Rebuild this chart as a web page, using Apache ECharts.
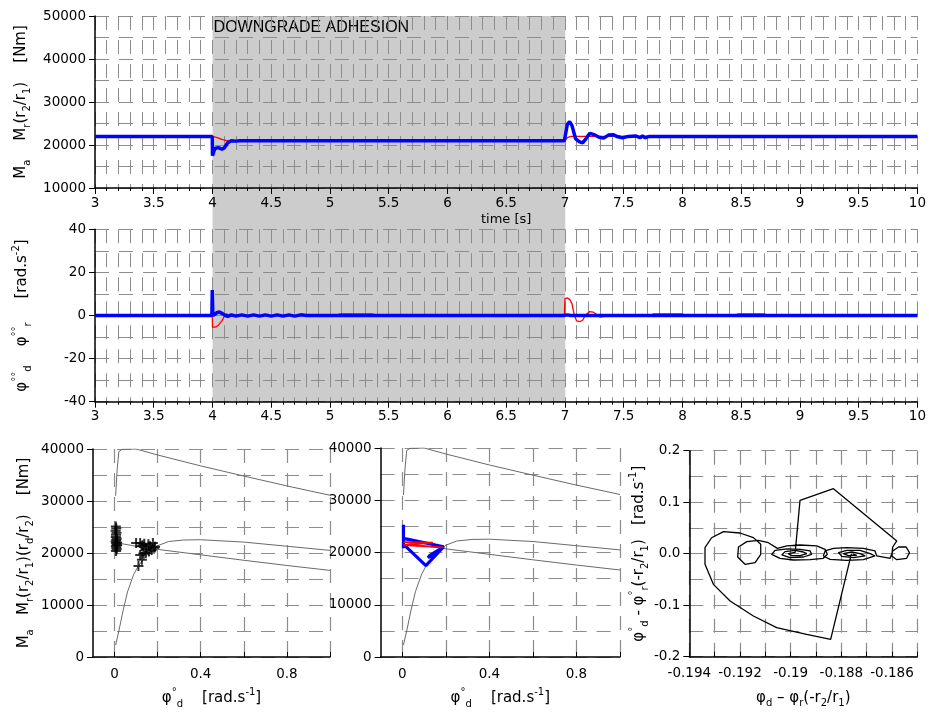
<!DOCTYPE html>
<html><head><meta charset="utf-8">
<script src="https://cdn.jsdelivr.net/npm/echarts@6/dist/echarts.min.js"></script>
<style>html,body{margin:0;padding:0;background:#fff}#c{width:929px;height:712px}</style>
</head><body><div id="c"></div>
<script>
// ---------- DATA ----------
// top: torques vs time
const torqueTimeA = [3, 3.998, 4.0, 4.02, 4.05, 4.08, 4.1, 4.13, 4.16, 4.2, 4.21, 4.23, 6.995, 7.02, 7.04, 7.06, 7.09, 7.12, 7.15, 7.18, 7.21, 7.25, 7.29, 7.33, 7.37, 7.41, 7.45, 7.49, 7.54, 7.6, 7.64, 7.66, 7.68, 7.72, 10];
const torqueA     = [22000, 22000, 17500, 19200, 19400, 19000, 19300, 20500, 21000, 20900, 20700, 21000, 21000, 24800, 25400, 24500, 21500, 20800, 20500, 21500, 22700, 22400, 21800, 21600, 22300, 22400, 21900, 21700, 22000, 22100, 21700, 22100, 21700, 22000, 22000];
const torqueTimeR = [3, 4.0, 4.04, 4.08, 4.12, 6.995, 7.02, 7.05, 10];
const torqueR     = [22000, 22000, 21700, 21300, 21000, 21000, 21700, 22000, 22000];
// middle: accelerations vs time
const accTimeD = [3, 3.995, 3.998, 4.003, 4.01, 4.02, 4.04, 4.06, 4.08, 4.1, 4.13, 4.16, 4.2, 4.25, 4.3, 4.35, 4.4, 4.45, 4.5, 4.55, 4.6, 4.65, 4.7, 4.75, 4.8, 6.99, 7.0, 7.02, 7.05, 10];
const accD     = [0, 0, 11.8, 0, -0.6, 0.4, 1.4, 1.6, 1.0, 0.3, -0.4, 0.3, -0.3, 0.3, -0.3, 0.3, -0.3, 0.3, -0.3, 0.3, -0.3, 0.3, -0.3, 0.3, 0, 0, 0.8, 0.3, 0, 0];
const accTimeR = [3, 3.998, 4.0, 4.01, 4.03, 4.05, 4.08, 4.1, 4.12, 4.15, 4.18, 4.22, 4.3, 5.05, 5.08, 5.36, 5.4, 6.995, 7.0, 7.02, 7.04, 7.06, 7.08, 7.1, 7.13, 7.15, 7.18, 7.21, 7.24, 7.27, 7.3, 7.35, 7.45, 7.5, 7.72, 7.75, 8.0, 8.03, 8.44, 8.47, 8.7, 8.73, 10];
const accR     = [0, 0, -5.5, -5.8, -5.3, -4.5, -2.5, -0.5, 0.8, -0.5, 0.3, 0, 0, 0, 0.7, 0.7, 0, 0, 7.8, 8.2, 7.5, 5.5, 0, -2.5, -2.8, -2.2, 0.5, 1.8, 1.6, 0.5, -0.8, -0.3, 0.2, 0, 0, 0.7, 0.7, 0, 0, 0.7, 0.7, 0, 0];
const adhesionWindow = [4, 7];
const adhesionLabel = 'DOWNGRADE ADHESION';
// adhesion characteristic curves (bottom left & middle)
const curveTopX = [0.005, 0.012, 0.02, 0.035, 0.1, 0.2, 0.4, 0.6, 0.8, 1.0];
const curveTopY = [31000, 36000, 39500, 39950, 40000, 38850, 36750, 34800, 32900, 31100];
const curveMidX = [0.005, 0.02, 0.04, 0.06, 0.088, 0.11, 0.14, 0.17, 0.2, 0.25, 0.32, 0.4, 0.6, 0.8, 1.0];
const curveMidY = [2300, 5000, 9000, 12500, 15800, 17500, 19100, 20400, 21400, 22200, 22500, 22550, 22100, 21300, 20500];
const curveLowX = [0.005, 0.1, 0.2, 0.4, 0.6, 0.8, 1.0];
const curveLowY = [22000, 21300, 20700, 19650, 18600, 17600, 16650];
// sampled operating points (bottom left)
const pointsX = [0.006, 0.008, 0.005, 0.009, 0.007, 0.006, 0.010, 0.008, 0.005, 0.007, 0.009, 0.006, 0.008, 0.010, 0.007, 0.012, 0.012,
                 0.100, 0.119, 0.138, 0.157, 0.178, 0.125, 0.165, 0.188, 0.148, 0.172, 0.160, 0.134, 0.119, 0.127, 0.111, 0.145, 0.185, 0.130];
const pointsY = [25100, 24700, 24300, 23900, 23500, 23100, 22800, 22500, 22200, 21900, 21600, 21300, 21000, 20700, 20400, 22000, 21500,
                 21900, 21900, 21800, 21700, 21900, 21300, 21300, 21200, 20700, 20600, 20300, 19900, 19600, 18700, 17500, 20000, 21000, 21500];
// operating trajectories (bottom middle)
const trajBlueX = [0.005, 0.005, 0.005, 0.19, 0.125, 0.118, 0.13, 0.19, 0.108, 0.007, 0.005];
const trajBlueY = [20800, 25300, 22700, 21100, 19400, 19000, 19300, 21100, 17500, 21500, 21000];
const trajRedX = [0.005, 0.14, 0.005, 0.19];
const trajRedY = [22000, 21900, 21400, 21000];
// phase portrait (bottom right)
const phaseX = [-0.18760, -0.18842, -0.18937, -0.19055, -0.19147, -0.19239, -0.19305, -0.19338, -0.19338, -0.19312,
  -0.19265, -0.19200, -0.19147, -0.19118, -0.19118, -0.19140, -0.19180, -0.19209, -0.19206, -0.19173, -0.19127, -0.19088, -0.19052,
  -0.19015, -0.18963, -0.18897, -0.18864, -0.18855, -0.18871, -0.18923, -0.18989, -0.19042, -0.19075, -0.19061, -0.19015,
  -0.18963, -0.18923, -0.18917, -0.18950, -0.19002, -0.19035, -0.19022, -0.18982,
  -0.18950, -0.18936, -0.18963, -0.18996, -0.19009, -0.18982, -0.18979,
  -0.18963, -0.18831, -0.18581,
  -0.18597, -0.18601, -0.18581, -0.18542, -0.18531, -0.18544, -0.18574, -0.18597, -0.18607,
  -0.18660, -0.18667, -0.18713, -0.18778, -0.18831, -0.18864, -0.18871, -0.18844, -0.18778, -0.18713, -0.18667,
  -0.18686, -0.18726, -0.18778, -0.18811, -0.18798, -0.18752, -0.18706,
  -0.18726, -0.18759, -0.18792, -0.18772, -0.18739, -0.18756];
const phaseY = [0.0000, -0.1663, -0.1566, -0.1437, -0.1210, -0.0918, -0.0595, -0.0206, 0.0117, 0.0310,
  0.0428, 0.0402, 0.0312, 0.0182, -0.0012, -0.0174, -0.0206, -0.0064, 0.0130, 0.0234, 0.0260, 0.0214, 0.0104,
  0.0150, 0.0169, 0.0150, 0.0085, -0.0012, -0.0090, -0.0116, -0.0122, -0.0090, -0.0012, 0.0066, 0.0092,
  0.0085, 0.0053, -0.0012, -0.0064, -0.0077, -0.0025, 0.0040, 0.0066,
  0.0033, 0.0001, -0.0038, -0.0038, 0.0001, 0.0027, 0.0001,
  0.1036, 0.1263, 0.0247,
  0.0130, -0.0044, -0.0116, -0.0090, 0.0020, 0.0130, 0.0130, 0.0053, -0.0090,
  -0.0044, 0.0053, 0.0104, 0.0117, 0.0104, 0.0053, -0.0044, -0.0109, -0.0129, -0.0116, -0.0044,
  0.0001, 0.0066, 0.0066, 0.0020, -0.0051, -0.0077, -0.0044,
  0.0001, 0.0033, 0.0001, -0.0038, -0.0032, -0.0005];
// tick values
const phiDotLabelVals = [0, 0.4, 0.8];
const phiDotTickVals = [0, 0.2, 0.4, 0.6, 0.8, 1.0];

// ---------- CHART ----------
const zip = (a, b) => a.map((v, i) => [v, b[i]]);
const FONT = 'DejaVu Sans';
const gridLine = {color: '#8c8c8c', width: 1, type: [14, 10]};
const gridLineB = {color: '#8c8c8c', width: 1.2, type: [14, 10]};
const axisLineS = {show: true, onZero: false, lineStyle: {color: '#000', width: 1.5}};
const lbl = {color: '#000', fontSize: 13.5, fontFamily: FONT};
const plain = v => String(v);
const rich = {
  n: {fontSize: 15, fontFamily: FONT, lineHeight: 22, color: '#000'},
  s: {fontSize: 10, fontFamily: FONT, lineHeight: 11, verticalAlign: 'bottom', color: '#000'},
  p: {fontSize: 10, fontFamily: FONT, lineHeight: 11, verticalAlign: 'top', color: '#000'}
};
const nameStyle = {rich: rich, fontSize: 15, fontFamily: FONT, color: '#000'};

const topYName = '{n|M}{s|a}{n|    M}{s|r}{n|(r}{s|2}{n|/r}{s|1}{n|)    [Nm]}';
const accYName = '{n|φ}{p|°°}{s|d}{n|    φ}{p|°°}{s|r}{n|     [rad.s}{p|-2}{n|]}';
const botYName = '{n|M}{s|a}{n|   M}{s|r}{n|(r}{s|2}{n|/r}{s|1}{n|)(r}{s|d}{n|/r}{s|2}{n|)    [Nm]}';
const phiDotName = '{n|φ}{p|°}{s|d}{n|    [rad.s}{p|-1}{n|]}';
const phaseYName = '{n|φ}{p|°}{s|d}{n| - φ}{p|°}{s|r}{n|(-r}{s|2}{n|/r}{s|1}{n|)   [rad.s}{p|-1}{n|]}';
const phaseXName = '{n|φ}{s|d}{n| – φ}{s|r}{n|(-r}{s|2}{n|/r}{s|1}{n|)}';

function timeX(gi, name) {
  return {
    type: 'value', gridIndex: gi, min: 3, max: 10, interval: 0.5,
    axisLine: axisLineS,
    axisTick: {show: true, length: 6, lineStyle: {color: '#000'}},
    minorTick: {show: true, splitNumber: 5, length: 3, lineStyle: {color: '#000'}},
    splitLine: {show: true, lineStyle: gridLine},
    minorSplitLine: {show: true, lineStyle: gridLine},
    axisLabel: Object.assign({margin: 8}, lbl),
    name: name || '', nameLocation: 'middle', nameGap: 25,
    nameTextStyle: {fontSize: 13, fontFamily: FONT, color: '#000'}
  };
}
function valY(gi, min, max, interval, name, gap, lineSt) {
  return {
    type: 'value', gridIndex: gi, min: min, max: max, interval: interval,
    axisLine: axisLineS,
    axisTick: {show: true, length: 6, lineStyle: {color: '#000'}},
    minorTick: {show: false, splitNumber: 2},
    splitLine: {show: true, lineStyle: lineSt || gridLine},
    minorSplitLine: {show: true, lineStyle: lineSt || gridLine},
    axisLabel: Object.assign({margin: 9, formatter: plain}, lbl),
    name: name, nameLocation: 'middle', nameRotate: 90, nameGap: gap,
    nameTextStyle: nameStyle
  };
}
function phiDotX(gi) {
  return {
    type: 'value', gridIndex: gi, min: -0.1, max: 1.0,
    axisLine: axisLineS,
    axisTick: {show: true, inside: true, length: 5, customValues: phiDotTickVals, lineStyle: {color: '#000'}},
    splitLine: {show: true, lineStyle: gridLineB},
    axisLabel: Object.assign({margin: 10, customValues: phiDotLabelVals}, lbl),
    name: phiDotName, nameLocation: 'middle', nameGap: 30, nameTextStyle: nameStyle
  };
}
function line(xi, data, color, width, z) {
  return {type: 'line', xAxisIndex: xi, yAxisIndex: xi, data: data, symbol: 'none', showSymbol: false,
    lineStyle: {color: color, width: width}, z: z, silent: true, animation: false};
}

const option = {
  animation: false,
  backgroundColor: '#fff',
  textStyle: {fontFamily: FONT},
  grid: [
    {left: 95, top: 16, width: 823, height: 172},
    {left: 95, top: 229.3, width: 823, height: 172.4},
    {left: 93, top: 449, width: 237, height: 208},
    {left: 380.6, top: 448, width: 239.4, height: 209},
    {left: 689.3, top: 450.7, width: 228, height: 206},
    {left: 95, top: 16, width: 823, height: 385.7}
  ],
  xAxis: [
    timeX(0, 'time [s]'),
    timeX(1),
    phiDotX(2),
    phiDotX(3),
    {
      type: 'value', gridIndex: 4, min: -0.194, max: -0.185, interval: 0.002,
      axisLine: axisLineS,
      axisTick: {show: true, inside: true, length: 5, lineStyle: {color: '#000'}},
      minorTick: {show: true, splitNumber: 2, length: 5, lineStyle: {color: '#000'}},
      splitLine: {show: true, lineStyle: gridLineB},
      minorSplitLine: {show: true, lineStyle: gridLineB},
      axisLabel: Object.assign({margin: 10, showMaxLabel: false}, lbl),
      name: phaseXName, nameLocation: 'middle', nameGap: 30, nameTextStyle: nameStyle
    },
    {type: 'value', gridIndex: 5, min: 3, max: 10, show: false}
  ],
  yAxis: [
    valY(0, 10000, 50000, 10000, topYName, 62),
    valY(1, -40, 40, 20, accYName, 62),
    valY(2, 0, 40000, 10000, botYName, 58, gridLineB),
    valY(3, 0, 40000, 10000, '', 10, gridLineB),
    Object.assign(valY(4, -0.2, 0.2, 0.1, phaseYName, 30, gridLineB), {
      axisLabel: Object.assign({margin: 9, formatter: v => v.toFixed(1)}, lbl)
    }),
    {type: 'value', gridIndex: 5, min: 0, max: 1, show: false}
  ],
  series: [
    {
      type: 'custom', xAxisIndex: 5, yAxisIndex: 5, z: -5, silent: true, clip: false,
      data: [[adhesionWindow[0], adhesionWindow[1]]],
      renderItem: function (params, api) {
        const p0 = api.coord([api.value(0), 1]);
        const p1 = api.coord([api.value(1), 0]);
        return {type: 'group', children: [
          {type: 'rect', shape: {x: p0[0], y: p0[1], width: p1[0] - p0[0], height: p1[1] - p0[1]},
           style: {fill: '#cccccc'}},
          {type: 'text', x: p0[0] + 1, y: p0[1] + 4,
           style: {text: adhesionLabel, fill: '#000', font: '16px "Liberation Sans"', textVerticalAlign: 'top'}}
        ]};
      }
    },
    line(0, zip(torqueTimeR, torqueR), '#ff0000', 1.3, 3),
    line(0, zip(torqueTimeA, torqueA), '#0000ff', 3.5, 4),
    line(1, zip(accTimeR, accR), '#ff0000', 1.3, 3),
    line(1, zip(accTimeD, accD), '#0000ff', 3.5, 4),
    line(2, zip(curveTopX, curveTopY), '#6a6a6a', 1, 3),
    line(2, zip(curveMidX, curveMidY), '#6a6a6a', 1, 3),
    line(2, zip(curveLowX, curveLowY), '#6a6a6a', 1, 3),
    {type: 'scatter', xAxisIndex: 2, yAxisIndex: 2, data: zip(pointsX, pointsY),
     symbol: 'path://M4,0H6V4H10V6H6V10H4V6H0V4H4Z', symbolSize: 10,
     itemStyle: {color: '#000'}, z: 4, silent: true},
    line(3, zip(curveTopX, curveTopY), '#6a6a6a', 1, 3),
    line(3, zip(curveMidX, curveMidY), '#6a6a6a', 1, 3),
    line(3, zip(curveLowX, curveLowY), '#6a6a6a', 1, 3),
    line(3, zip(trajBlueX, trajBlueY), '#0000ff', 3.2, 4),
    line(3, zip(trajRedX, trajRedY), '#ff0000', 1.8, 5),
    line(4, zip(phaseX, phaseY), '#000000', 1.3, 4)
  ]
};
const chart = echarts.init(document.getElementById('c'), null, {renderer: 'canvas'});
chart.setOption(option);
</script>
</body></html>
